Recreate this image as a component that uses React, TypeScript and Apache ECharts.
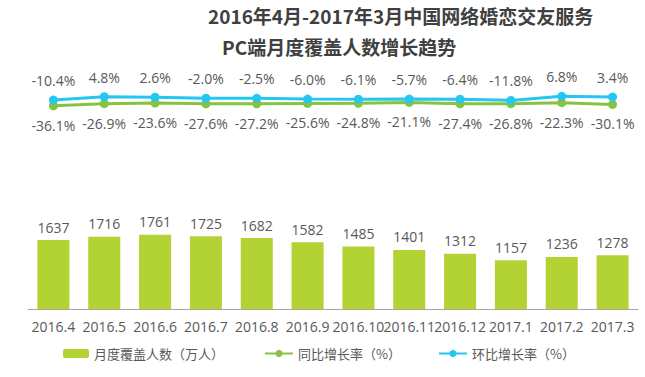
import React, { useEffect, useRef } from "react";
import * as echarts from "echarts";

const categories = ["2016.4", "2016.5", "2016.6", "2016.7", "2016.8", "2016.9", "2016.10", "2016.11", "2016.12", "2017.1", "2017.2", "2017.3"];
const monthlyUsers = [1637, 1716, 1761, 1725, 1682, 1582, 1485, 1401, 1312, 1157, 1236, 1278];
const yoyGrowth = [-36.1, -26.9, -23.6, -27.6, -27.2, -25.6, -24.8, -21.1, -27.4, -26.8, -22.3, -30.1];
const momGrowth = [-10.4, 4.8, 2.6, -2.0, -2.5, -6.0, -6.1, -5.7, -6.4, -11.8, 6.8, 3.4];

const seriesNames = ["月度覆盖人数（万人）", "同比增长率（%）", "环比增长率（%）"];
const titleLine1 = "2016年4月-2017年3月中国网络婚恋交友服务";
const titleLine2 = "PC端月度覆盖人数增长趋势";

const FONT = "'Open Sans', 'Noto Sans CJK SC', sans-serif";
const CJK = "'Noto Sans CJK SC', sans-serif";
const TEXT = "#595959";

export default function App() {
  const ref = useRef<HTMLDivElement>(null);
  useEffect(() => {
    if (!ref.current) return;
    const chart = echarts.init(ref.current, null, { renderer: "svg" });
    chart.setOption({
      animation: false,
      backgroundColor: "#ffffff",
      title: [
        {
          text: titleLine1,
          left: 208,
          top: 6,
          padding: 0,
          textStyle: { fontFamily: CJK, fontSize: 19, fontWeight: "bold", color: "#404040" },
        },
        {
          text: titleLine2,
          left: 222,
          top: 37,
          padding: 0,
          textStyle: { fontFamily: CJK, fontSize: 19, fontWeight: "bold", color: "#404040" },
        },
      ],
      legend: [
        {
          data: [seriesNames[0]],
          left: 63,
          top: 347,
          padding: 0,
          itemWidth: 26,
          itemHeight: 9,
          itemGap: 0,
          textStyle: { fontFamily: CJK, fontSize: 13, color: TEXT },
        },
        {
          data: [seriesNames[1]],
          left: 264,
          top: 347,
          padding: 0,
          itemWidth: 28,
          itemHeight: 9,
          textStyle: { fontFamily: CJK, fontSize: 13, color: TEXT },
        },
        {
          data: [seriesNames[2]],
          left: 438,
          top: 347,
          padding: 0,
          itemWidth: 28,
          itemHeight: 9,
          textStyle: { fontFamily: CJK, fontSize: 13, color: TEXT },
        },
      ],
      grid: { left: 28, right: 7, top: 78, bottom: 68, containLabel: false },
      xAxis: {
        type: "category",
        data: categories,
        axisLine: { lineStyle: { color: "#A6A6A6", width: 1 } },
        axisTick: { show: false },
        axisLabel: { interval: 0, color: TEXT, fontFamily: FONT, fontSize: 14, margin: 10 },
      },
      yAxis: [
        { type: "value", min: 0, max: 5480, show: false, splitLine: { show: false } },
        { type: "value", min: -960, max: 90, show: false, splitLine: { show: false } },
      ],
      series: [
        {
          name: seriesNames[0],
          type: "bar",
          data: monthlyUsers,
          barWidth: "63%",
          itemStyle: { color: "#B3D334" },
          label: { show: true, position: "top", distance: 6, color: TEXT, fontFamily: FONT, fontSize: 14 },
        },
        {
          name: seriesNames[1],
          type: "line",
          yAxisIndex: 1,
          data: yoyGrowth,
          symbol: "circle",
          symbolSize: 9,
          lineStyle: { color: "#86C440", width: 3 },
          itemStyle: { color: "#86C440" },
          label: {
            show: true,
            position: "bottom",
            distance: 8,
            color: TEXT,
            fontFamily: FONT,
            fontSize: 14,
            formatter: (p: any) => p.value.toFixed(1) + "%",
          },
        },
        {
          name: seriesNames[2],
          type: "line",
          yAxisIndex: 1,
          data: momGrowth,
          symbol: "circle",
          symbolSize: 9,
          lineStyle: { color: "#27C6F0", width: 3 },
          itemStyle: { color: "#27C6F0" },
          label: {
            show: true,
            position: "top",
            distance: 8,
            color: TEXT,
            fontFamily: FONT,
            fontSize: 14,
            formatter: (p: any) => p.value.toFixed(1) + "%",
          },
        },
      ],
    });
    return () => chart.dispose();
  }, []);
  return <div ref={ref} style={{ width: 645, height: 377, position: "absolute", left: 0, top: 0 }} />;
}
